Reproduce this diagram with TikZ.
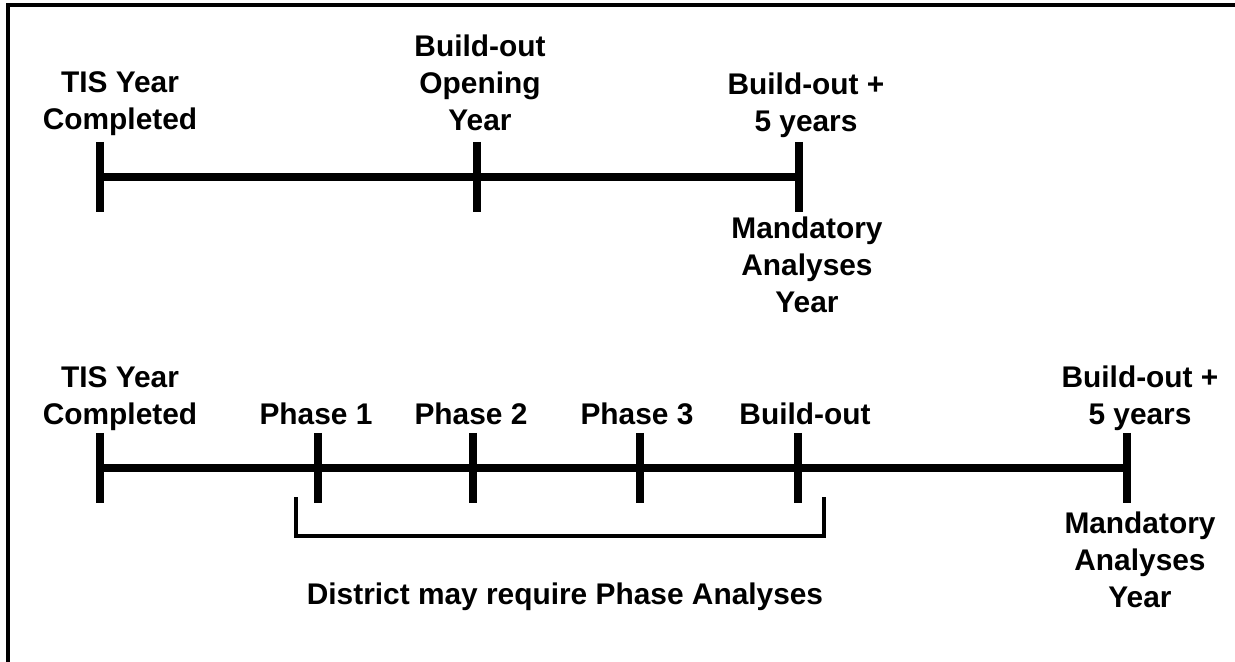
\documentclass[tikz,border=0pt]{standalone}
\usepackage{fontspec}
\setmainfont{Liberation Sans}
\usetikzlibrary{positioning}
\tikzset{
  lbl/.style={font=\bfseries\fontsize{17}{21}\selectfont, align=center, inner sep=0pt, anchor=north},
  axis/.style={line width=4.8pt},
  bar/.style={line width=4.6pt},
  brace/.style={line width=1.9pt},
  rim/.style={line width=1.8pt},
}
\begin{document}
\begin{tikzpicture}[x=0.02cm,y=-0.02cm]
\useasboundingbox (0,0) rectangle (1235,662);
\draw[rim] (8,5) rectangle (1280,720);
% tick: name, x, y of the line
\def\tk#1#2#3{
\coordinate (#1t) at (#2,#3-35);
\coordinate (#1b) at (#2,#3+35);
\draw[bar] (#1t) -- (#1b);
}
% upper timeline
\tk{ua}{100}{177}
\tk{ub}{477}{177}
\tk{uc}{799}{177}
\coordinate (ua) at (100,177);
\coordinate (uc) at (799,177);
\draw[axis] (ua) -- (uc);
\node[lbl] (utis) at (120,71) {TIS Year\\Completed};
\node[lbl] (uopen) at (480,35) {Build-out\\Opening\\Year};
\node[lbl] (uplus) at (806,73) {Build-out +\\5 years};
\node[lbl] (umand) at (807,217) {Mandatory\\Analyses\\Year};
% lower timeline
\tk{la}{100}{468}
\tk{lb}{318}{468}
\tk{lc}{473}{468}
\tk{ld}{640}{468}
\tk{le}{798}{468}
\tk{lf}{1127}{468}
\coordinate (la) at (100,468);
\coordinate (lf) at (1127,468);
\draw[axis] (la) -- (lf);
\node[lbl] (ltis) at (120,366) {TIS Year\\Completed};
\node[lbl] (lph1) at (316,403) {Phase 1};
\node[lbl] (lph2) at (471,403) {Phase 2};
\node[lbl] (lph3) at (637,403) {Phase 3};
\node[lbl] (lbo) at (805,403) {Build-out};
\node[lbl] (lplus) at (1140,366) {Build-out +\\5 years};
\node[lbl] (lmand) at (1140,512) {Mandatory\\Analyses\\Year};
% bracket under the phases
\coordinate (kl) at (296,497);
\coordinate (kr) at (824,497);
\draw[brace] (kl) -- ++(0,39) -| (kr);
\node[lbl] (dist) at (565,583) {District may require Phase Analyses};
\end{tikzpicture}
\end{document}
